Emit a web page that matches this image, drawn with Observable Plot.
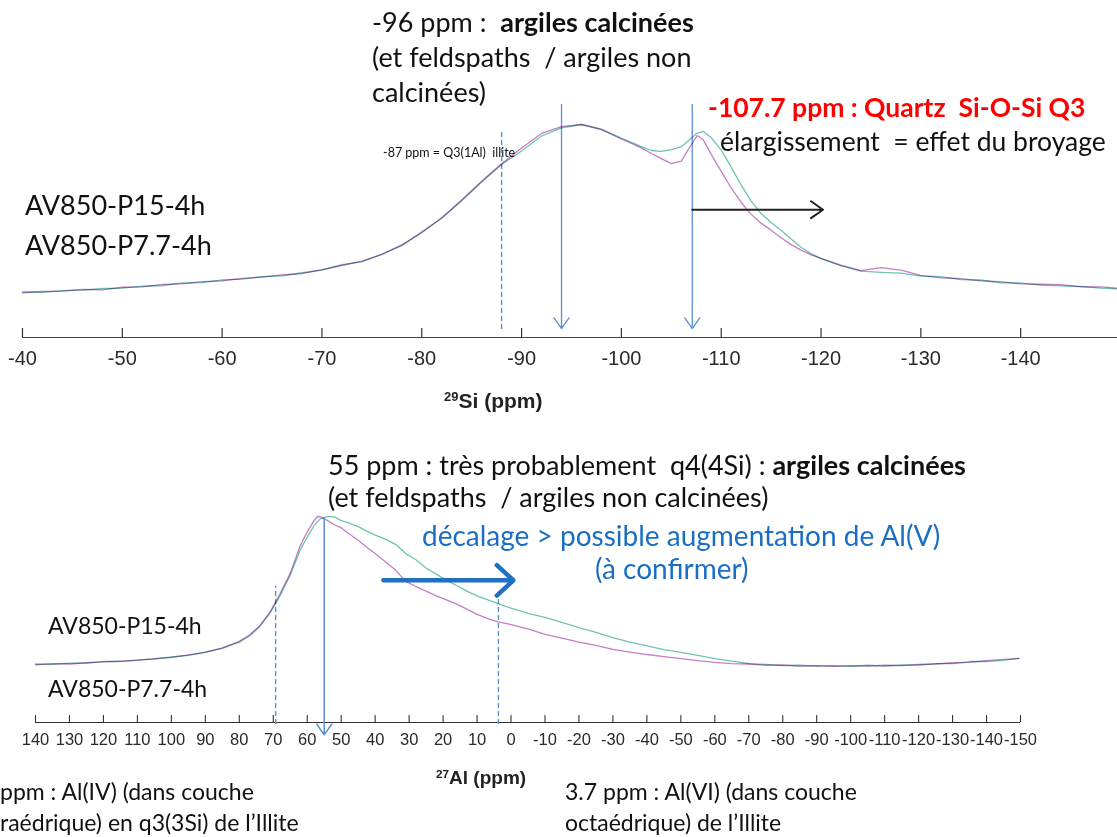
<!DOCTYPE html>
<html><head><meta charset="utf-8">
<script src="https://cdn.jsdelivr.net/npm/d3@7"></script>
<script src="https://cdn.jsdelivr.net/npm/@observablehq/plot@0.6"></script>
<style>
html,body{margin:0;padding:0;background:#fff;}
#wrap{position:relative;width:1117px;height:837px;overflow:hidden;background:#fff;}
#wrap svg{position:absolute;left:0;top:0;}
.t{position:absolute;white-space:pre;font-family:Lato,"Open Sans",sans-serif;color:#111;}
.ax{position:absolute;white-space:pre;font-family:"Liberation Sans",Arial,sans-serif;font-weight:bold;color:#222;}
.ax sup{font-size:0.62em;vertical-align:0.55em;line-height:0;}
</style></head>
<body><div id="wrap">
<div class="t" style="left:372px;top:4px;font-size:27px;line-height:35px;">-96 ppm :  <b>argiles calcinées</b>
(et feldspaths  / argiles non
calcinées)</div>
<div class="t" style="left:708px;top:91px;font-size:26.5px;line-height:32px;color:#ff0000;font-weight:bold;">-107.7 ppm : Quartz  Si-O-Si Q3</div>
<div class="t" style="left:720px;top:125px;font-size:26.5px;line-height:32px;">élargissement  = effet du broyage</div>
<div class="t" style="left:383px;top:143px;font-size:12.5px;line-height:20px;">-87 ppm = Q3(1Al)  illite</div>
<div class="t" style="left:25px;top:188px;font-size:27px;line-height:34px;">AV850-P15-4h</div>
<div class="t" style="left:25px;top:228px;font-size:27px;line-height:34px;">AV850-P7.7-4h</div>
<div class="ax" style="left:444px;top:389px;font-size:21px;"><sup>29</sup>Si (ppm)</div>

<div class="t" style="left:328px;top:449px;font-size:27px;line-height:32px;">55 ppm : très probablement  q4(4Si) : <b>argiles calcinées</b>
(et feldspaths  / argiles non calcinées)</div>
<div class="t" style="left:422px;top:518px;font-size:28px;line-height:34px;color:#1a6fc4;">décalage > possible augmentation de Al(V)</div>
<div class="t" style="left:595px;top:551px;font-size:28px;line-height:34px;color:#1a6fc4;">(à confirmer)</div>
<div class="t" style="left:48px;top:610px;font-size:23px;line-height:30px;">AV850-P15-4h</div>
<div class="t" style="left:48px;top:673px;font-size:23px;line-height:30px;">AV850-P7.7-4h</div>
<div class="ax" style="left:436px;top:767px;font-size:19px;"><sup>27</sup>Al (ppm)</div>
<div class="t" style="left:0px;top:776px;font-size:23px;line-height:31px;">ppm : Al(IV) (dans couche
raédrique) en q3(3Si) de l’Illite</div>
<div class="t" style="left:565px;top:776px;font-size:23px;line-height:31px;">3.7 ppm : Al(VI) (dans couche
octaédrique) de l’Illite</div>
</div>
<script>
// ---------- 29Si spectrum ----------
const siShift = [-40,-42,-44,-46,-48,-50,-52,-54,-56,-58,-60,-62,-64,-66,-68,-70,-72,-74,-76,-78,-80,-82,-84,-86,-88,-90,-92,-94,-96,-98,-100,-102,-103,-104,-105,-106,-107,-107.6,-108.2,-109,-110,-111,-112,-113,-114,-115,-116,-117,-118,-119,-120,-122,-124,-126,-128,-130,-132,-134,-136,-138,-140,-142,-144,-146,-148,-149.7];
const siP77 = [21.0,21.6,21.8,22.6,22.4,23.6,23.8,24.9,25.2,26.2,26.6,27.8,28.3,29.4,30.0,31.9,33.8,35.9,38.9,43.5,49.2,56.2,64.6,73.4,81.6,89.0,95.8,99.0,100.0,97.6,93.2,89.0,86.4,84.0,81.6,82.8,90.5,94.8,92.8,86.0,78.0,70.2,63.4,57.8,53.6,50.4,46.8,43.6,41.0,38.8,37.2,34.0,31.4,32.8,31.6,29.2,28.0,27.6,26.6,26.2,25.2,25.0,24.8,23.8,23.8,23.2];
const siP15 = [21.4,21.2,22.0,22.2,23.0,23.2,24.1,24.3,25.6,25.8,27.1,27.4,28.6,28.9,30.4,31.6,34.2,35.5,39.2,43.1,49.6,56.0,64.2,73.0,81.2,87.6,94.6,98.4,100.0,97.8,93.6,89.6,87.8,87.4,88.2,89.6,93.6,96.0,96.8,93.8,88.0,80.0,71.5,64.0,58.2,54.0,50.4,46.2,42.4,39.4,37.0,33.6,31.2,30.6,30.2,28.8,28.6,27.2,27.0,25.6,25.6,24.6,24.2,24.0,23.2,22.8];
const siTicks = [-40,-50,-60,-70,-80,-90,-100,-110,-120,-130,-140];
const siDashShifts = [-88];          // -87 ppm Q3(1Al) illite
const siArrowShifts = [-94, -107.1]; // -96 ppm and -107.7 ppm markers
const siBroadening = [{from: -107.1, to: -120.2, level: 60}];

// ---------- 27Al spectrum ----------
const alShift = [140,135,130,125,120,115,110,105,100,95,90,85,80,77,74,71,68,65,62,60,58,57,56,54,52,50,48,45,42,40,37,34,31,28,25,22,19,16,13,10,7,4,0,-5,-10,-15,-20,-25,-30,-35,-40,-45,-50,-55,-60,-65,-70,-75,-80,-85,-90,-95,-100,-105,-110,-115,-120,-125,-130,-135,-140,-145,-149.5];
const alP77 = [28.0,28.6,28.4,29.0,29.4,29.8,30.2,31.0,31.6,32.8,34.0,36.2,39.4,42.5,47.0,53.5,62.5,72.5,86.0,92.5,98.0,100.0,99.8,98.0,96.0,94.5,92.0,88.5,84.5,82.0,78.0,74.0,68.5,66.0,63.8,61.5,59.5,57.5,55.0,52.5,50.5,49.0,47.5,45.5,42.8,41.0,39.0,37.4,35.5,34.2,33.0,32.0,31.0,30.0,29.2,28.6,28.4,27.8,28.0,27.4,27.6,27.2,27.6,27.4,27.8,27.6,28.2,28.4,29.0,29.2,30.0,30.6,31.0];
const alP15 = [28.4,28.2,28.8,28.8,29.6,29.6,30.4,30.8,31.8,32.6,34.2,36.0,39.0,42.0,46.5,53.0,61.5,71.5,84.0,90.0,95.5,97.5,99.0,100.0,99.8,98.0,97.0,95.1,92.5,91.0,89.0,86.5,82.0,79.0,75.0,72.0,69.0,66.5,63.8,61.5,59.6,57.8,55.5,53.0,51.0,48.6,46.0,43.8,41.2,39.0,37.2,35.4,34.0,32.6,31.0,29.8,28.6,28.2,27.6,27.8,27.4,27.6,27.2,27.8,27.4,28.0,27.8,28.6,28.6,29.6,29.6,30.2,31.2];
const alTicks = [140,130,120,110,100,90,80,70,60,50,40,30,20,10,0,-10,-20,-30,-40,-50,-60,-70,-80,-90,-100,-110,-120,-130,-140,-150];
const alArrowShifts = [55];          // 55 ppm q4(4Si)
const alDashShifts = [69.3, 3.7];    // Al(IV) and Al(VI) of illite
const alShiftArrow = [{from: 37.6, to: -0.7, level: 69}];

const pink = "#c47fc6", teal = "#72c2b0", guide = "#5b8fd0";
const series = (xs, ys, s) => xs.map((x, i) => ({x, y: ys[i], s}));

const wrap = document.getElementById("wrap");
const baseStyle = {background: "transparent", overflow: "visible", fontFamily: "'Liberation Sans', Arial, sans-serif"};

const siPlot = Plot.plot({
  width: 1117, height: 837,
  marginLeft: 22, marginRight: 0, marginTop: 124, marginBottom: 500,
  x: {domain: [-40, -149.7], axis: null},
  y: {domain: [0, 100], axis: null},
  style: baseStyle,
  marks: [
    Plot.ruleY([0], {stroke: "#444", strokeWidth: 1.2}),
    Plot.tickX(siTicks, {x: d => d, stroke: "#333", strokeWidth: 1.2, insetTop: 204}),
    Plot.axisX({ticks: siTicks, tickSize: 0, tickPadding: 13, tickFormat: d => String(d), fontSize: 20, fill: "#2a2a2a"}),
    Plot.ruleX(siDashShifts, {x: d => d, y1: 3.8, y2: 96.7, stroke: guide, strokeWidth: 1.4, strokeDasharray: "5,3"}),
    Plot.arrow(siArrowShifts, {x1: d => d, x2: d => d, y1: 109.4, y2: 4.2, stroke: guide, strokeWidth: 1.3, headLength: 15, headAngle: 70}),
    Plot.line(series(siShift, siP15, "AV850-P15-4h"), {x: "x", y: "y", stroke: teal, strokeWidth: 1.3, mixBlendMode: "multiply"}),
    Plot.line(series(siShift, siP77, "AV850-P7.7-4h"), {x: "x", y: "y", stroke: pink, strokeWidth: 1.3, mixBlendMode: "multiply"}),
    Plot.arrow(siBroadening, {x1: "from", x2: "to", y1: "level", y2: "level", stroke: "#222", strokeWidth: 2, headLength: 11, headAngle: 70})
  ]
});
wrap.appendChild(siPlot);

const alPlot = Plot.plot({
  width: 1117, height: 837,
  marginLeft: 35, marginRight: 97, marginTop: 516, marginBottom: 115,
  x: {domain: [140, -150], axis: null},
  y: {domain: [0, 100], axis: null},
  style: baseStyle,
  marks: [
    Plot.ruleY([0], {stroke: "#333", strokeWidth: 1.2}),
    Plot.tickX(alTicks, {x: d => d, stroke: "#333", strokeWidth: 1.1, insetTop: 199}),
    Plot.axisX({ticks: alTicks, tickSize: 0, tickPadding: 11, tickFormat: d => String(d), fontSize: 16.5, fill: "#2a2a2a"}),
    Plot.ruleX(alDashShifts, {x: d => d, y1: -1, y2: (d, i) => i === 0 ? 66 : 62, stroke: guide, strokeWidth: 1.4, strokeDasharray: "5,3"}),
    Plot.line(series(alShift, alP15, "AV850-P15-4h"), {x: "x", y: "y", stroke: teal, strokeWidth: 1.3, mixBlendMode: "multiply"}),
    Plot.line(series(alShift, alP77, "AV850-P7.7-4h"), {x: "x", y: "y", stroke: pink, strokeWidth: 1.3, mixBlendMode: "multiply"}),
    Plot.arrow(alArrowShifts, {x1: d => d, x2: d => d, y1: 99.5, y2: -6, stroke: guide, strokeWidth: 1.5, headLength: 13, headAngle: 70}),
    Plot.arrow(alShiftArrow, {x1: "from", x2: "to", y1: "level", y2: "level", stroke: "#1f6fc3", strokeWidth: 4.5, headLength: 7.5, headAngle: 85})
  ]
});
wrap.appendChild(alPlot);
</script>
</body></html>
